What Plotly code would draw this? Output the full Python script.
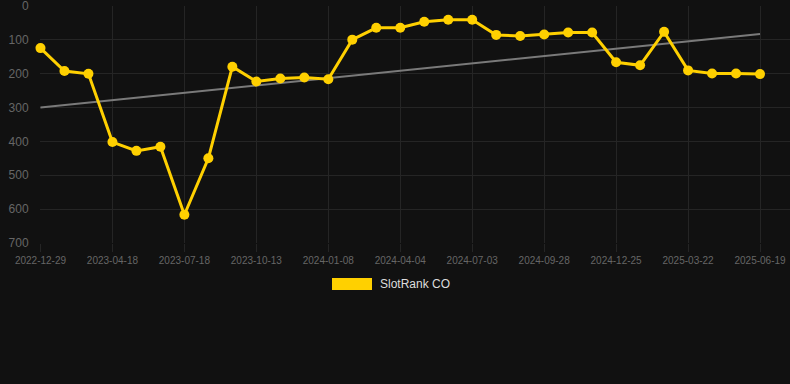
import plotly.graph_objects as go

dates = ["2022-12-29", "2023-02-05", "2023-03-14", "2023-04-18", "2023-05-18", "2023-06-17",
         "2023-07-18", "2023-08-15", "2023-09-14", "2023-10-13", "2023-11-10", "2023-12-09",
         "2024-01-08", "2024-02-06", "2024-03-06", "2024-04-04", "2024-05-04", "2024-06-03",
         "2024-07-03", "2024-08-01", "2024-08-30", "2024-09-28", "2024-10-27", "2024-11-25",
         "2024-12-25", "2025-01-23", "2025-02-21", "2025-03-22", "2025-04-20", "2025-05-20",
         "2025-06-19"]
rank = [124, 192, 200, 402, 428, 416, 617, 450, 179, 223, 214, 211, 216, 99, 64, 64,
        46, 40, 40, 85, 88, 84, 78, 78, 166, 175, 76, 190, 199, 199, 201]
trend_dates = [dates[0], dates[-1]]
trend_values = [300, 82]
tick_dates = dates[::3]
y_ticks = [0, 100, 200, 300, 400, 500, 600, 700]

fig = go.Figure()
fig.add_trace(go.Scatter(x=trend_dates, y=trend_values, mode="lines",
                         line=dict(color="#7a7a7a", width=2), hoverinfo="skip",
                         showlegend=False, cliponaxis=False))
fig.add_trace(go.Scatter(x=dates, y=rank, mode="lines+markers", name="SlotRank CO",
                         line=dict(color="#FFD000", width=3),
                         marker=dict(color="#FFD000", size=10), showlegend=False,
                         cliponaxis=False))

font_family = "Liberation Sans, Arial, sans-serif"
fig.update_layout(
    width=790, height=384,
    margin=dict(l=40, r=0, t=6, b=141),
    paper_bgcolor="#111111", plot_bgcolor="#111111",
    font=dict(family=font_family),
    xaxis=dict(type="category", categoryorder="array", categoryarray=dates,
               range=[-0.02, 31.25], tickvals=tick_dates, ticktext=tick_dates,
               showgrid=True, gridcolor="#252525", gridwidth=1,
               ticks="outside", ticklen=8, tickcolor="#252525",
               tickfont=dict(size=10, color="#666666"),
               ticklabeloverflow="allow",
               showline=False, zeroline=False),
    yaxis=dict(range=[700.5, -0.5], tickvals=y_ticks,
               showgrid=True, gridcolor="#252525", gridwidth=1,
               ticks="outside", ticklen=8, tickcolor="#111111",
               tickfont=dict(size=12, color="#666666"),
               ticklabeloverflow="allow",
               showline=False, zeroline=False),
    showlegend=False,
    shapes=[dict(type="rect", xref="paper", yref="paper",
                 x0=(332 - 40) / 750, x1=(372 - 40) / 750,
                 y0=(384 - 141 - 290) / 237, y1=(384 - 141 - 278) / 237,
                 fillcolor="#FFD000", line=dict(width=0))],
    annotations=[dict(text="SlotRank CO", xref="paper", yref="paper",
                      x=(378 - 40) / 750, y=(384 - 141 - 284) / 237,
                      xanchor="left", yanchor="middle", showarrow=False,
                      font=dict(size=12, color="#dddddd", family=font_family))],
)

fig.write_html("out.html", config={"displayModeBar": False},
               post_script="document.body.style.margin='0';document.body.style.background='#111111';")
